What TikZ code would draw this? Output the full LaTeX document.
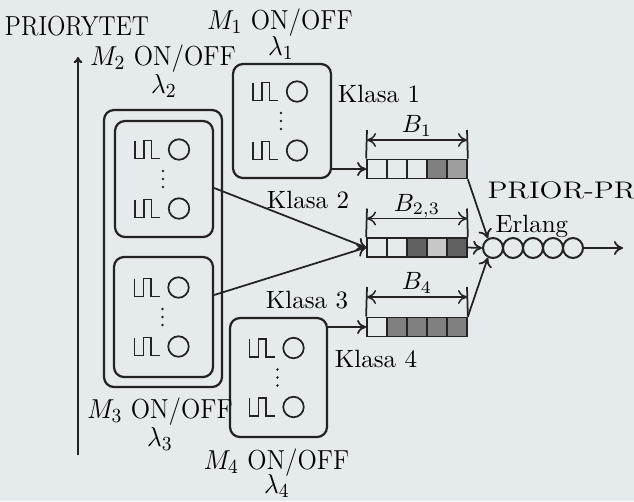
\documentclass[tikz,border=0pt]{standalone}
\usetikzlibrary{arrows.meta}
\definecolor{paper}{RGB}{229,235,236}
\definecolor{ink}{RGB}{35,35,35}
\colorlet{shadeA}{black!62}
\colorlet{shadeB}{black!50}
\colorlet{shadeC}{black!38}
\colorlet{shadeD}{black!22}
\newcommand\bigtext[1]{\scalebox{0.88}[1]{#1}}
\newcommand\labtext[1]{\scalebox{0.92}[1]{#1}}
\tikzset{
  tip/.tip={To[length=3.6pt,width=5.6pt]},
  srcbox/.style={draw=ink, line width=0.9pt, rounded corners=4pt, inner sep=0pt},
  conn/.style={draw=ink, line width=0.7pt, -tip},
  dimline/.style={draw=ink, line width=0.6pt, tip-tip},
  tick/.style={draw=ink, line width=0.7pt},
  wave/.style={draw=ink, line width=0.7pt},
  cell/.style={draw=ink, line width=0.7pt, minimum width=8pt, minimum height=7.6pt, inner sep=0pt},
  klasa/.style={font=\fontsize{10}{12}\selectfont, inner sep=0pt},
  biglab/.style={font=\fontsize{11}{13}\selectfont, inner sep=0pt},
  server/.style={circle, draw=ink, line width=0.8pt, minimum size=8pt, inner sep=0pt},
}
\newcommand\srccontent[1]{%
  \foreach \dy in {-29.5,29.5} {
    \draw[wave] ([shift={(-29,\dy-9)}]#1.center) -- ++(0,18) -- ++(9,0) -- ++(0,-18)
      -- ++(7.5,0) -- ++(0,18) -- ++(8.5,0);
    \draw[wave] ([shift={(15,\dy)}]#1.center) circle[radius=4.1pt];
  }
  \foreach \dy in {-8,0,8} \fill[ink] ([shift={(-1,\dy)}]#1.center) circle[radius=0.55pt];
}
\begin{document}
\begin{tikzpicture}[x=0.4pt,y=-0.4pt]
  \fill[paper] (0,0) rectangle (634,501);
  \useasboundingbox (0,0) rectangle (634,501);

  % priority axis
  \coordinate (axbot) at (78,455);
  \coordinate (axtop) at (78,57);
  \draw[ink, line width=0.9pt, -{To[length=2.5pt,width=3.5pt]}] (axbot) -- (axtop);
  \node[biglab, anchor=base] (prio) at (77,35) {\bigtext{PRIORYTET}};

  % source boxes
  \node[srcbox, minimum width=47.2pt, minimum height=110.8pt] (g23) at (163,248.5) {};
  \node[srcbox, minimum width=39.2pt, minimum height=45.6pt] (m1) at (282,121) {};
  \node[srcbox, minimum width=39.2pt, minimum height=46.4pt] (c2) at (164,179) {};
  \node[srcbox, minimum width=39.6pt, minimum height=48pt] (c3) at (163.5,317) {};
  \node[srcbox, minimum width=38.8pt, minimum height=47.6pt] (m4) at (278.5,377.5) {};
  \srccontent{m1}
  \srccontent{c2}
  \srccontent{c3}
  \srccontent{m4}

  % source labels
  \node[biglab, anchor=base] (lm1) at (280,29) {\labtext{$M_1$ ON/OFF}};
  \node[biglab, anchor=base] (ll1) at (281,55) {\labtext{$\lambda_1$}};
  \node[biglab, anchor=base] (lm2) at (163,65) {\labtext{$M_2$ ON/OFF}};
  \node[biglab, anchor=base] (ll2) at (164,93) {\labtext{$\lambda_2$}};
  \node[biglab, anchor=base] (lm3) at (160,418) {\labtext{$M_3$ ON/OFF}};
  \node[biglab, anchor=base] (ll3) at (160,446) {\labtext{$\lambda_3$}};
  \node[biglab, anchor=base] (lm4) at (276.5,469) {\labtext{$M_4$ ON/OFF}};
  \node[biglab, anchor=base] (ll4) at (277,493) {\labtext{$\lambda_4$}};

  % buffers
  \foreach \f [count=\i] in {paper,paper,paper,shadeB,shadeC}
    \node[cell, fill=\f] (b1c\i) at (357+20*\i,169) {};
  \foreach \f [count=\i] in {paper,paper,shadeA,shadeD,shadeA}
    \node[cell, fill=\f] (b2c\i) at (357+20*\i,247.5) {};
  \foreach \f [count=\i] in {paper,shadeB,shadeB,shadeB,shadeB}
    \node[cell, fill=\f] (b4c\i) at (357+20*\i,327) {};

  % dimension marks
  \foreach \b/\ty/\lab in {b1/130/{B_1}, b2/208.5/{B_{2,3}}, b4/287/{B_4}} {
    \coordinate (\b tl) at (367,\ty);
    \coordinate (\b tr) at (467,\ty);
    \coordinate (\b al) at (367,\ty+10);
    \coordinate (\b ar) at (467,\ty+10);
    \draw[tick] (\b c1.north west) -- (\b tl);
    \draw[tick] (\b c5.north east) -- (\b tr);
    \draw[dimline] (\b al) -- (\b ar);
    \node[klasa, anchor=base] (\b lab) at (417,\ty+2.5) {$\lab$};
  }

  % class labels
  \node[klasa] (k1) at (379,93.5) {Klasa 1};
  \node[klasa] (k2) at (308,200) {Klasa 2};
  \node[klasa] (k3) at (307,300) {Klasa 3};
  \node[klasa] (k4) at (376,358.5) {Klasa 4};

  % connectors sources -> buffers
  \draw[conn] (m1.east |- b1c1.west) -- (b1c1.west);
  \draw[conn] ([yshift=-3.6pt]c2.east) -- (b2c1.west);
  \draw[conn] ([yshift=8.8pt]c3.east) -- (b2c1.west);
  \draw[conn] (m4.east |- b4c1.west) -- (b4c1.west);

  % Erlang servers
  \foreach \i in {1,...,5}
    \node[server] (s\i) at (473+20*\i,248) {};
  \coordinate (out) at (623,248);
  \draw[conn] (b1c5.south east) -- (s1.118);
  \draw[conn] (b2c5.east) -- (s1.west);
  \draw[conn] (b4c5.north east) -- (s1.242);
  \draw[conn] (s5.east) -- (out);
  \node[klasa, anchor=base west] (erl) at (495,232) {Erlang};
  \node[inner sep=0pt, anchor=base west] (pp) at (487,198)
    {\scalebox{1}[0.8]{\fontsize{12}{14}\selectfont PRIOR-PR}};
\end{tikzpicture}
\end{document}
